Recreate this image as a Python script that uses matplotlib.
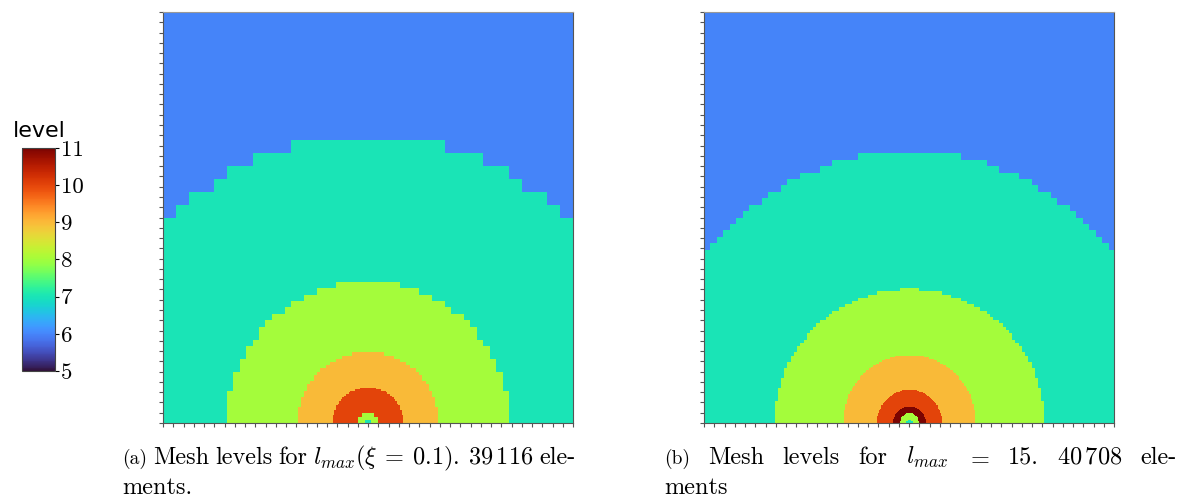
import numpy as np
import matplotlib
matplotlib.use("Agg")
import matplotlib.pyplot as plt
from matplotlib.colors import Normalize
from matplotlib.cm import ScalarMappable

plt.rcParams["mathtext.fontset"] = "cm"

# Refinement levels shown on the colour scale
level_min, level_max = 5, 11
level_ticks = [5, 6, 7, 8, 9, 10, 11]
coarse_level = 6

# Refinement zones around the source (bottom centre of the domain),
# listed from the outermost to the innermost.  Radii are in units of the
# domain width, cell is the mesh spacing that resolves each zone boundary.
a_levels = [7, 8, 9, 10, 8, 7]
a_rx = [0.695, 0.345, 0.172, 0.0866, 0.0232, 0.0075]
a_ry = [0.695, 0.345, 0.172, 0.0866, 0.0232, 0.0075]
a_cell = [1 / 32, 1 / 64, 1 / 128, 1 / 256, 1 / 128, 1 / 128]

b_levels = [7, 8, 9, 10, 11, 8, 7]
b_rx = [0.635, 0.329, 0.161, 0.079, 0.040, 0.023, 0.008]
b_ry = [0.660, 0.325, 0.166, 0.081, 0.040, 0.024, 0.008]
b_cell = [1 / 64, 1 / 128, 1 / 256, 1 / 512, 1 / 1024, 1 / 512, 1 / 256]

n_ticks = 40

caption_a = ["(a)", "Mesh", "levels", "for", r"$l_{max}(\xi\:=\:0.1)$.",
             r"$39\,116$", "ele-"]
caption_a2 = "ments."
caption_b = ["(b)", "Mesh", "levels", "for", r"$l_{max}$", r"$=$", "15.",
             r"$40\,708$", "ele-"]
caption_b2 = "ments"


def level_field(levels, rx, ry, cells, n=1024):
    u = (np.arange(n) + 0.5) / n
    X, Y = np.meshgrid(u, u)
    field = np.full((n, n), float(coarse_level))
    for lev, ax_r, ay_r, h in zip(levels, rx, ry, cells):
        cx = (np.floor(X / h) + 0.5) * h
        cy = (np.floor(Y / h) + 0.5) * h
        inside = ((cx - 0.5) / ax_r) ** 2 + (cy / ay_r) ** 2 < 1.0
        field[inside] = lev
    return field


W, H = 1191, 500
fig = plt.figure(figsize=(W / 100, H / 100), dpi=100)
norm = Normalize(vmin=level_min, vmax=level_max)
cmap = plt.get_cmap("turbo")


def px_axes(x0, y0, x1, y1):
    return fig.add_axes([x0 / W, 1 - y1 / H, (x1 - x0) / W, (y1 - y0) / H])


panels = [
    (163, (a_levels, a_rx, a_ry, a_cell)),
    (704, (b_levels, b_rx, b_ry, b_cell)),
]
for x0, spec in panels:
    ax = px_axes(x0, 12, x0 + 410, 423)
    field = level_field(*spec)
    ax.imshow(field, origin="lower", extent=[0, 1, 0, 1], cmap=cmap,
              norm=norm, interpolation="nearest", aspect="auto")
    ax.set_xlim(0, 1)
    ax.set_ylim(0, 1)
    t = np.linspace(0, 1, n_ticks + 1)
    ax.set_xticks(t)
    ax.set_yticks(t)
    ax.tick_params(direction="out", length=3, width=0.8, colors="#555555",
                   labelbottom=False, labelleft=False)
    for s in ax.spines.values():
        s.set_color("#555555")
        s.set_linewidth(0.8)
    ax.spines["top"].set_color("#999999")

# Colour bar
cax = px_axes(22, 148, 55, 371)
cb = fig.colorbar(ScalarMappable(norm=norm, cmap=cmap), cax=cax, ticks=level_ticks)
cb.outline.set_linewidth(0.8)
cb.outline.set_edgecolor("#444444")
cax.tick_params(length=3, width=0.8, pad=1, labelsize=16.5)
for lab in cax.get_yticklabels():
    lab.set_fontfamily("cmr10")
fig.text(39 / W, 1 - 137 / H, "level", ha="center", va="baseline",
         fontsize=16, family="DejaVu Sans")

# Captions, set as justified lines
cap_size = 17.5
label_size = 14
y1 = 1 - 464 / H
y2 = 1 - 494 / H
renderer = fig.canvas.get_renderer()


def justified(words, x_left, x_right, y, wide_gap=None):
    texts = []
    for i, w in enumerate(words):
        size = label_size if i == 0 else cap_size
        texts.append(fig.text(0, y, w, ha="left", va="baseline",
                              fontsize=size, family="cmr10"))
    widths = [t.get_window_extent(renderer).width for t in texts]
    weights = [1.0] * (len(words) - 1)
    if wide_gap is not None:
        weights[wide_gap] = 1.5
    gap = (x_right - x_left - sum(widths)) / sum(weights)
    x = x_left
    for i, t in enumerate(texts):
        t.set_x(x / W)
        if i < len(weights):
            x += widths[i] + gap * weights[i]


justified(caption_a, 122, 576, y1, wide_gap=4)
fig.text(122 / W, y2, caption_a2, ha="left", va="baseline", fontsize=cap_size,
         family="cmr10")
justified(caption_b, 664, 1177, y1)
fig.text(664 / W, y2, caption_b2, ha="left", va="baseline", fontsize=cap_size,
         family="cmr10")

fig.savefig("out.png", dpi=100)
